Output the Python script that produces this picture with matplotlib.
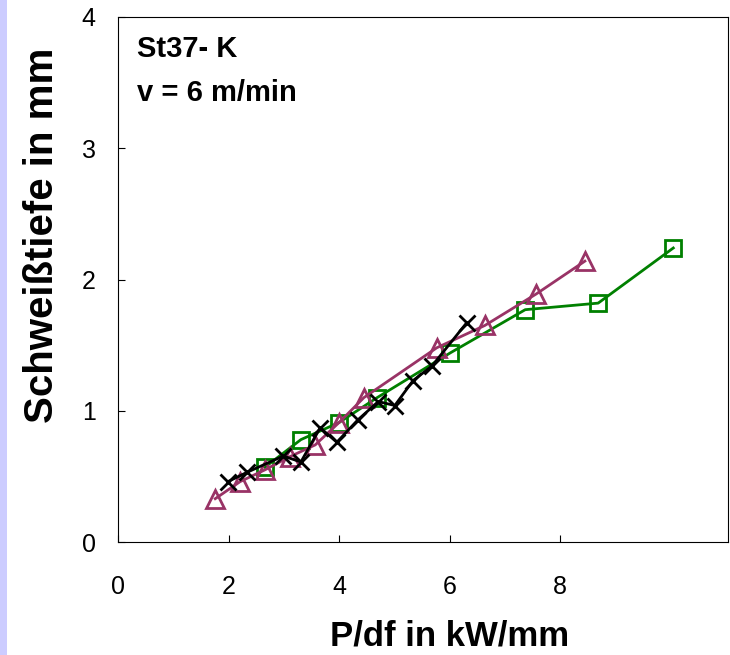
import matplotlib
matplotlib.use("Agg")
import matplotlib.pyplot as plt
from matplotlib.patches import Rectangle

plt.rcParams['font.family'] = ['Liberation Sans', 'DejaVu Sans']

# data
tri_x = [1.76, 2.21, 2.66, 3.11, 3.57, 4.00, 4.45, 5.77, 6.64, 7.57, 8.45]
tri_y = [0.33, 0.46, 0.55, 0.65, 0.74, 0.91, 1.10, 1.48, 1.65, 1.89, 2.14]

sq_x = [2.66, 3.31, 4.00, 4.69, 6.01, 7.37, 8.69, 10.05]
sq_y = [0.57, 0.78, 0.91, 1.10, 1.44, 1.77, 1.82, 2.24]

cr_x = [1.99, 2.33, 2.99, 3.31, 3.66, 3.96, 4.34, 4.71, 5.01, 5.34, 5.68, 6.31]
cr_y = [0.46, 0.53, 0.655, 0.61, 0.87, 0.76, 0.93, 1.07, 1.04, 1.23, 1.34, 1.67]

x_ticks = [0, 2, 4, 6, 8]
y_ticks = [0, 1, 2, 3, 4]

fig = plt.figure(figsize=(7.3, 6.55), dpi=100)
fig.patches.append(Rectangle((0, 0), 7 / 730, 1, transform=fig.transFigure,
                             facecolor='#ccccff', edgecolor='none', zorder=0))
ax = fig.add_axes([118 / 730, 1 - 542 / 655, 610 / 730, 525 / 655])

ax.plot(sq_x, sq_y, color='#008000', lw=2, marker='s', ms=11,
        mfc='none', mec='#008000', mew=2)
ax.plot(tri_x, tri_y, color='#993366', lw=2, marker='^', ms=13,
        mfc='none', mec='#993366', mew=2)
ax.plot(cr_x, cr_y, color='black', lw=2, marker='x', ms=12, mew=2)

ax.set_xlim(0, 11.04)
ax.set_ylim(0, 4)
ax.set_xticks(x_ticks)
ax.set_yticks(y_ticks)
ax.tick_params(direction='in', length=5, width=0.8, labelsize=18)
ax.tick_params(axis='x', pad=24)
ax.tick_params(axis='y', pad=16)

# axis titles placed where the reference has them
ax.set_xlabel('P/df in kW/mm', fontsize=25, fontweight='bold', va='center')
ax.xaxis.set_label_coords(0.544, -0.179)
ax.set_ylabel('Schweißtiefe in mm', fontsize=29, fontweight='bold', va='center')
ax.yaxis.set_label_coords(-0.125, 0.585)

ax.text(0.031, 0.939, 'St37- K', transform=ax.transAxes, fontsize=21,
        fontweight='bold', va='center', ha='left')
ax.text(0.031, 0.855, 'v = 6 m/min', transform=ax.transAxes, fontsize=21,
        fontweight='bold', va='center', ha='left')

fig.savefig('out.png', dpi=100)
